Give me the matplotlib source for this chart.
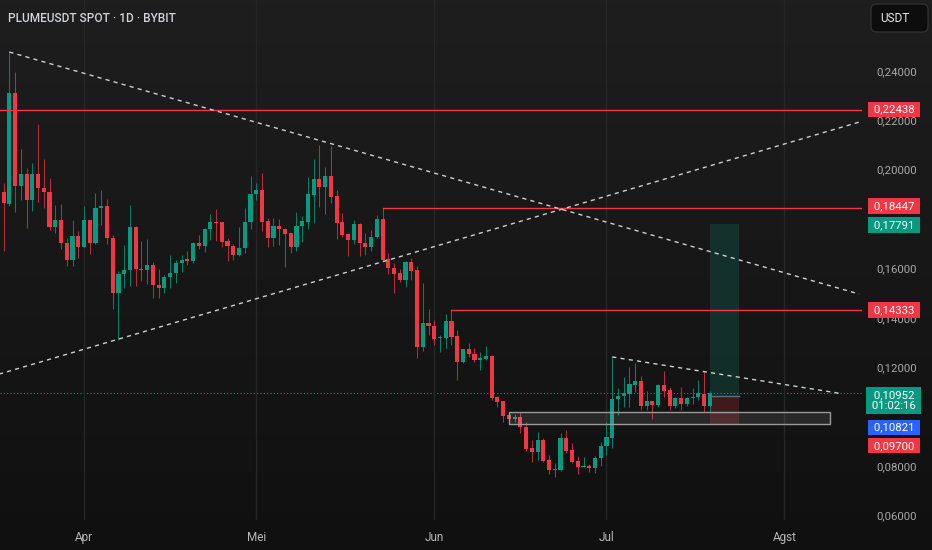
import numpy as np
import pandas as pd
import matplotlib
matplotlib.use("Agg")
import matplotlib.pyplot as plt
from matplotlib.patches import Rectangle, FancyBboxPatch

plt.rcParams['font.family'] = ['Roboto', 'DejaVu Sans']

# ---------------------------------------------------------------
# Data: daily candles PLUMEUSDT
# ---------------------------------------------------------------
start_date = "2025-03-17"

opens = [0.1560, 0.1910, 0.1861, 0.2311, 0.1934, 0.1982, 0.1877, 0.1982, 0.1926, 0.1910,
         0.1768, 0.1796, 0.1703, 0.1634, 0.1731, 0.1687, 0.1796, 0.1703, 0.1845, 0.1853,
         0.1723, 0.1500, 0.1577, 0.1593, 0.1768, 0.1597, 0.1593, 0.1614, 0.1532, 0.1520,
         0.1565, 0.1581, 0.1622, 0.1638, 0.1630, 0.1703, 0.1691, 0.1759, 0.1788, 0.1788,
         0.1711, 0.1691, 0.1654, 0.1682, 0.1788, 0.1901, 0.1918, 0.1792, 0.1723, 0.1772,
         0.1760, 0.1743, 0.1687, 0.1772, 0.1788, 0.1897, 0.1962, 0.1930, 0.1974, 0.1893,
         0.1788, 0.1739, 0.1715, 0.1780, 0.1703, 0.1687, 0.1727, 0.1800, 0.1638, 0.1601,
         0.1581, 0.1553, 0.1626, 0.1593, 0.1281, 0.1378, 0.1366, 0.1318, 0.1318, 0.1387,
         0.1326, 0.1220, 0.1273, 0.1253, 0.1228, 0.1233, 0.1245, 0.1078, 0.1062, 0.1005,
         0.0989, 0.0997, 0.0957, 0.0872, 0.0856, 0.0904, 0.0823, 0.0783, 0.0783, 0.0912,
         0.0864, 0.0819, 0.0795, 0.0799, 0.0791, 0.0831, 0.0880, 0.0912, 0.1070, 0.1082,
         0.1091, 0.1127, 0.1143, 0.1042, 0.1062, 0.1046, 0.1127, 0.1107, 0.1042, 0.1074,
         0.1050, 0.1074, 0.1078, 0.1091, 0.1042]
highs = [0.1930, 0.1946, 0.2477, 0.2396, 0.2084, 0.2007, 0.2027, 0.2185, 0.2043, 0.1966,
         0.1857, 0.1861, 0.1723, 0.1796, 0.1751, 0.1853, 0.1798, 0.1905, 0.1918, 0.1881,
         0.1735, 0.1589, 0.1695, 0.1857, 0.1770, 0.1711, 0.1719, 0.1626, 0.1597, 0.1573,
         0.1654, 0.1634, 0.1654, 0.1670, 0.1705, 0.1735, 0.1764, 0.1820, 0.1841, 0.1790,
         0.1723, 0.1699, 0.1768, 0.1845, 0.1974, 0.1946, 0.1987, 0.1804, 0.1804, 0.1800,
         0.1762, 0.1745, 0.1828, 0.1812, 0.1970, 0.2043, 0.2100, 0.2011, 0.2096, 0.1918,
         0.1824, 0.1743, 0.1796, 0.1784, 0.1743, 0.1755, 0.1816, 0.1845, 0.1662, 0.1622,
         0.1597, 0.1628, 0.1642, 0.1610, 0.1541, 0.1435, 0.1391, 0.1330, 0.1415, 0.1433,
         0.1350, 0.1275, 0.1297, 0.1277, 0.1261, 0.1285, 0.1247, 0.1082, 0.1064, 0.1014,
         0.1010, 0.1018, 0.0977, 0.0904, 0.0937, 0.0912, 0.0843, 0.0811, 0.0932, 0.0945,
         0.0892, 0.0839, 0.0835, 0.0807, 0.0839, 0.0896, 0.0977, 0.1241, 0.1115, 0.1160,
         0.1200, 0.1216, 0.1164, 0.1103, 0.1064, 0.1131, 0.1184, 0.1119, 0.1078, 0.1119,
         0.1078, 0.1115, 0.1147, 0.1180, 0.1103]
lows = [0.1472, 0.1670, 0.1853, 0.1828, 0.1877, 0.1764, 0.1832, 0.1869, 0.1845, 0.1755,
        0.1743, 0.1678, 0.1610, 0.1610, 0.1642, 0.1685, 0.1658, 0.1699, 0.1776, 0.1699,
        0.1435, 0.1310, 0.1520, 0.1528, 0.1528, 0.1549, 0.1537, 0.1480, 0.1480, 0.1500,
        0.1520, 0.1541, 0.1585, 0.1614, 0.1622, 0.1678, 0.1666, 0.1715, 0.1711, 0.1687,
        0.1630, 0.1634, 0.1652, 0.1662, 0.1760, 0.1877, 0.1751, 0.1687, 0.1691, 0.1695,
        0.1605, 0.1662, 0.1670, 0.1707, 0.1760, 0.1784, 0.1849, 0.1820, 0.1865, 0.1719,
        0.1727, 0.1650, 0.1699, 0.1650, 0.1654, 0.1670, 0.1723, 0.1630, 0.1577, 0.1500,
        0.1545, 0.1524, 0.1553, 0.1237, 0.1265, 0.1330, 0.1289, 0.1261, 0.1277, 0.1289,
        0.1147, 0.1216, 0.1241, 0.1220, 0.1188, 0.1228, 0.1066, 0.1038, 0.0977, 0.0973,
        0.0977, 0.0932, 0.0860, 0.0815, 0.0823, 0.0815, 0.0766, 0.0754, 0.0778, 0.0851,
        0.0811, 0.0766, 0.0793, 0.0774, 0.0770, 0.0799, 0.0843, 0.0872, 0.1005, 0.1038,
        0.1038, 0.1099, 0.1026, 0.1026, 0.0989, 0.1038, 0.1078, 0.1026, 0.1034, 0.1026,
        0.1042, 0.1050, 0.1066, 0.1018, 0.1018]
closes = [0.1905, 0.1865, 0.2311, 0.1934, 0.1982, 0.1877, 0.1982, 0.1926, 0.1910, 0.1768,
          0.1796, 0.1703, 0.1634, 0.1731, 0.1687, 0.1796, 0.1703, 0.1845, 0.1853, 0.1723,
          0.1500, 0.1577, 0.1593, 0.1768, 0.1597, 0.1593, 0.1614, 0.1532, 0.1520, 0.1565,
          0.1581, 0.1622, 0.1634, 0.1630, 0.1703, 0.1691, 0.1759, 0.1788, 0.1784, 0.1707,
          0.1691, 0.1654, 0.1682, 0.1788, 0.1901, 0.1918, 0.1788, 0.1723, 0.1772, 0.1760,
          0.1739, 0.1687, 0.1772, 0.1792, 0.1901, 0.1962, 0.1930, 0.1974, 0.1889, 0.1784,
          0.1735, 0.1715, 0.1780, 0.1703, 0.1687, 0.1727, 0.1800, 0.1634, 0.1601, 0.1577,
          0.1553, 0.1626, 0.1589, 0.1281, 0.1378, 0.1366, 0.1314, 0.1322, 0.1387, 0.1322,
          0.1220, 0.1273, 0.1253, 0.1228, 0.1237, 0.1245, 0.1074, 0.1058, 0.1001, 0.0989,
          0.0997, 0.0957, 0.0868, 0.0856, 0.0904, 0.0819, 0.0783, 0.0787, 0.0912, 0.0860,
          0.0815, 0.0795, 0.0799, 0.0791, 0.0831, 0.0880, 0.0916, 0.1070, 0.1082, 0.1095,
          0.1131, 0.1143, 0.1042, 0.1062, 0.1046, 0.1127, 0.1103, 0.1042, 0.1074, 0.1050,
          0.1074, 0.1078, 0.1095, 0.1042, 0.10952]

# levels / drawings
level_prices = [0.22438, 0.18447, 0.14333]
level_starts = ["2025-03-01", "2025-05-23", "2025-06-04"]
trend_down_dates = ["2025-03-19", "2025-08-14"]
trend_down_prices = [0.2477, 0.1496]
trend_up_dates = ["2025-03-17", "2025-08-14"]
trend_up_prices = [0.1170, 0.2193]
wedge_dates = ["2025-07-02", "2025-08-11"]
wedge_prices = [0.1241, 0.1092]
zone_dates = ["2025-06-14", "2025-08-09"]
zone_prices = [0.0969, 0.1019]
pos_dates = ["2025-07-19", "2025-07-24"]
pos_entry, pos_target, pos_stop = 0.10821, 0.17791, 0.09700
last_price = 0.10952
countdown = "01:02:16"

price_ticks = [0.06, 0.08, 0.10, 0.12, 0.14, 0.16, 0.18, 0.20, 0.22, 0.24]
hidden_ticks = [0.10, 0.18]   # fully covered by the price tags
month_starts = ["2025-04-01", "2025-05-01", "2025-06-01", "2025-07-01", "2025-08-01"]
month_labels = ["Apr", "Mei", "Jun", "Jul", "Agst"]

# ---------------------------------------------------------------
# helpers
# ---------------------------------------------------------------
origin = pd.Timestamp("2025-03-01")


def to_x(d):
    return (pd.to_datetime(d) - origin) / pd.Timedelta(days=1)


def fmt(p):
    return f"{p:.5f}".replace(".", ",")


GREEN = "#089981"
RED = "#f23645"
BLUE = "#2962ff"

dates = pd.date_range(start_date, periods=len(opens), freq="D")
x = np.asarray(to_x(dates), dtype=float)
o = np.array(opens)
h = np.array(highs)
l = np.array(lows)
c = np.array(closes)
up = c >= o

fig = plt.figure(figsize=(9.32, 5.5), dpi=100)

# background gradient
bg = fig.add_axes([0, 0, 1, 1], zorder=-10)
grad = np.linspace(0, 1, 256).reshape(-1, 1)
top_col = np.array([0.118, 0.118, 0.118])
bot_col = np.array([0.063, 0.063, 0.063])
img = top_col + (bot_col - top_col) * grad[:, :, None]
bg.imshow(img, aspect="auto", extent=[0, 1, 0, 1])
bg.axis("off")

ax = fig.add_axes([0, 30 / 550, 862 / 932, 520 / 550])
ax.set_facecolor("none")
ax.set_xlim(16.37, 166.5)
ax.set_ylim(0.0580, 0.2688)
for s in ax.spines.values():
    s.set_visible(False)

# grid (vertical only, month starts)
ax.set_xticks([to_x(m) for m in month_starts])
ax.set_xticklabels(month_labels)
ax.grid(axis="x", color="#262626", linewidth=1)
ax.tick_params(axis="x", length=0, pad=8, colors="#b8b8b8", labelsize=8.5)

ax.yaxis.tick_right()
ax.set_yticks(price_ticks)
ax.set_yticklabels(["" if any(abs(v - t) < 1e-9 for t in hidden_ticks) else fmt(v)
                    for v in price_ticks])
ax.tick_params(axis="y", length=0, pad=10, colors="#a8a8a8", labelsize=8.2)

# ---------------------------------------------------------------
# drawings
# ---------------------------------------------------------------
# long position tool
px0, px1 = to_x(pos_dates[0]), to_x(pos_dates[1])
ax.add_patch(Rectangle((px0, pos_entry), px1 - px0, pos_target - pos_entry,
                       facecolor=GREEN, alpha=0.2, edgecolor="none", zorder=1))
ax.add_patch(Rectangle((px0, pos_stop), px1 - px0, pos_entry - pos_stop,
                       facecolor=RED, alpha=0.2, edgecolor="none", zorder=1))
ax.plot([px0, px1], [pos_entry, pos_entry], color="#5d6f86", lw=1, zorder=1)

# current price dotted line
ax.axhline(last_price, color=GREEN, lw=0.8, ls=(0, (1, 2)), zorder=1)

# candles
wick_col = np.where(up, "#0b7d6a", "#b52e3b")
body_col = np.where(up, GREEN, RED)
ax.vlines(x, l, h, colors=wick_col, linewidth=0.75, zorder=3)
bottoms = np.minimum(o, c)
heights = np.maximum(np.abs(c - o), 0.0004)
ax.bar(x, heights, bottom=bottoms, width=0.72, color=body_col,
       edgecolor="none", zorder=4)

# horizontal levels (rays)
for p, d in zip(level_prices, level_starts):
    ax.plot([to_x(d), 166.5], [p, p], color=RED, lw=1, zorder=5)

# dashed trend lines
dash = (0, (3, 3))
ax.plot([to_x(d) for d in trend_down_dates], trend_down_prices,
        color="#d0d0d0", lw=1, ls=dash, zorder=5)
ax.plot([to_x(d) for d in trend_up_dates], trend_up_prices,
        color="#d0d0d0", lw=1, ls=dash, zorder=5)
ax.plot([to_x(d) for d in wedge_dates], wedge_prices,
        color="#d0d0d0", lw=1, ls=dash, zorder=5)

# support zone
zx0, zx1 = to_x(zone_dates[0]), to_x(zone_dates[1])
ax.add_patch(Rectangle((zx0, zone_prices[0]), zx1 - zx0, zone_prices[1] - zone_prices[0],
                       facecolor="#ffffff", alpha=0.09, edgecolor="none", zorder=5))
ax.add_patch(Rectangle((zx0, zone_prices[0]), zx1 - zx0, zone_prices[1] - zone_prices[0],
                       facecolor="none", edgecolor="#9a9a9a", lw=1, zorder=5))

# ---------------------------------------------------------------
# price tags on the right scale
# ---------------------------------------------------------------
ytr = ax.get_yaxis_transform()


def price_tag(price, color, dy=0, text=None):
    label = text if text is not None else " " + fmt(price) + " "
    ax.annotate(label, xy=(1, price), xycoords=ytr,
                xytext=(23, dy), textcoords="offset points",
                ha="center", va="center", color="white", fontsize=8.2,
                linespacing=1.2, annotation_clip=False, zorder=10,
                bbox=dict(boxstyle="square,pad=0.24", fc=color, ec="none"))


price_tag(level_prices[0], RED)
price_tag(level_prices[1], RED, dy=1.6)
price_tag(pos_target, GREEN, dy=-0.6)
price_tag(level_prices[2], RED, dy=-0.5)
price_tag(last_price, GREEN, dy=-5.5,
          text=" " + fmt(last_price) + " \n " + countdown + " ")
price_tag(pos_entry, BLUE, dy=-22.5)
price_tag(pos_stop, RED, dy=-15.8)

# ---------------------------------------------------------------
# header texts
# ---------------------------------------------------------------
fig.text(8 / 932, 1 - 18 / 550, "PLUMEUSDT SPOT · 1D · BYBIT", color="#d1d4dc",
         fontsize=8.6, fontweight="medium", va="center", ha="left")

fig.patches.append(FancyBboxPatch((871 / 932, 1 - 32 / 550), 57 / 932, 28 / 550,
                                  boxstyle="round,pad=0,rounding_size=0.006",
                                  mutation_aspect=932 / 550,
                                  transform=fig.transFigure, fc="#0d0d0d",
                                  ec="#2f2f2f", lw=1, zorder=5))
fig.text(880 / 932, 1 - 18 / 550, "USDT", color="#e8e8e8", fontsize=8.5,
         va="center", ha="left", zorder=6)

fig.savefig("out.png", dpi=100)
